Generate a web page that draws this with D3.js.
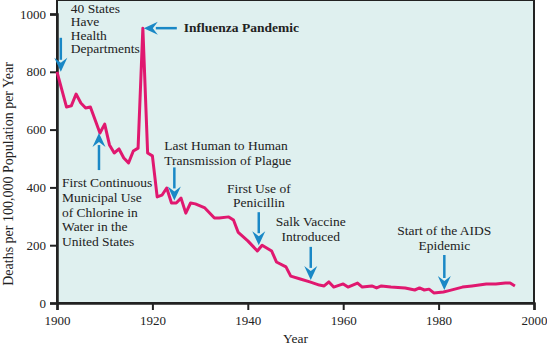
<!DOCTYPE html>
<html lang="en">
<head>
<meta charset="UTF-8">
<title>Infectious disease deaths</title>
<style>
    body { margin: 0; background: #fff; }
    text { font-family: 'Liberation Serif', 'Times New Roman', serif; fill: #222; }
    .tick text { font-size: 13px; }
    .note { font-size: 13.5px; }
</style>
</head>
<body>
<script src="https://d3js.org/d3.v7.min.js"></script>
<script>

    const years = [1900, 1902, 1903, 1904, 1905, 1906, 1907, 1909, 1910, 1911, 1912, 1913, 1914, 1915, 1916, 1917,
        1918, 1919, 1920, 1921, 1922, 1923, 1924, 1925, 1926, 1927, 1928, 1929, 1931, 1933, 1934, 1936, 1937, 1938,
        1940, 1942, 1943, 1945, 1946, 1948, 1949, 1951, 1953, 1955, 1956, 1957, 1958, 1960, 1961, 1963, 1964, 1966,
        1967, 1968, 1970, 1973, 1975, 1976, 1977, 1978, 1979, 1981, 1982, 1985, 1987, 1990, 1992, 1994, 1995, 1996];
    const deaths = [800, 678, 682, 723, 692, 675, 678, 588, 619, 547, 519, 533, 502, 485, 526, 536,
        951, 519, 509, 367, 373, 398, 346, 346, 363, 311, 346, 343, 329, 294, 294, 298, 287, 244,
        215, 180, 200, 180, 142, 125, 93, 83, 73, 62, 59, 73, 55, 66, 55, 69, 55, 59,
        52, 59, 55, 52, 45, 52, 45, 48, 35, 38, 42, 55, 59, 66, 66, 69, 69, 59];
    const xTicks = [1900, 1920, 1940, 1960, 1980, 2000];
    const yTicks = [0, 200, 400, 600, 800, 1000];

    // arrow tip at (year, value); dir = down / up / left
    const notes = [
        {lines: ['40 States', 'Have', 'Health', 'Departments'], year: 1900.8, value: 800, dir: 'down', len: 34,
            tx: 10, ty: -59, lh: 13.5, anchor: 'start'},
        {lines: ['Influenza Pandemic'], year: 1918.2, value: 951, dir: 'left', len: 33,
            tx: 40, ty: 4, lh: 0, anchor: 'start', bold: true},
        {lines: ['First Continuous', 'Municipal Use', 'of Chlorine in', 'Water in the', 'United States'],
            year: 1908.8, value: 588, dir: 'up', len: 37, tx: -37, ty: 54, lh: 14.75, anchor: 'start'},
        {lines: ['Last Human to Human', 'Transmission of Plague'], year: 1924.6, value: 355, dir: 'down', len: 33,
            tx: -10, ty: -50, lh: 15, anchor: 'start'},
        {lines: ['First Use of', 'Penicillin'], year: 1942.3, value: 200, dir: 'down', len: 33,
            tx: 0, ty: -52, lh: 14, anchor: 'middle'},
        {lines: ['Salk Vaccine', 'Introduced'], year: 1953.2, value: 80, dir: 'down', len: 33,
            tx: 0, ty: -54, lh: 15, anchor: 'middle'},
        {lines: ['Start of the AIDS', 'Epidemic'], year: 1981.2, value: 45, dir: 'down', len: 35,
            tx: 0, ty: -55, lh: 15, anchor: 'middle'}
    ];

    const width = 547, height = 345;
    const plot = {left: 57, right: 534, top: 0, bottom: 303};

    const svg = d3.select('body').append('svg')
        .attr('width', width)
        .attr('height', height);

    const x = d3.scaleLinear().domain([1900, 2000]).range([plot.left, plot.right]);
    const y = d3.scaleLinear().domain([0, 1000]).range([plot.bottom, 14]);

    svg.append('rect')
        .attr('x', plot.left)
        .attr('y', plot.top)
        .attr('width', plot.right - plot.left)
        .attr('height', plot.bottom - plot.top)
        .style('fill', '#dff0ef')
        .style('stroke', '#222')
        .style('stroke-width', 2);

    // axes
    const xAxis = svg.append('g')
        .attr('transform', 'translate(0,' + plot.bottom + ')')
        .call(d3.axisBottom(x).tickValues(xTicks).tickFormat(d3.format('d')).tickSize(7).tickPadding(6));
    const yAxis = svg.append('g')
        .attr('transform', 'translate(' + plot.left + ',0)')
        .call(d3.axisLeft(y).tickValues(yTicks).tickFormat(d3.format('d')).tickSize(7).tickPadding(4));
    [xAxis, yAxis].forEach(function(a) {
        a.select('.domain').style('stroke', '#222').style('stroke-width', 2.5);
        a.selectAll('.tick line').style('stroke', '#222').style('stroke-width', 2);
        a.selectAll('.tick text').style('fill', '#222').style('font-size', '13px');
    });

    svg.append('text')
        .attr('x', (plot.left + plot.right) / 2)
        .attr('y', 343)
        .attr('text-anchor', 'middle')
        .style('font-size', '13.5px')
        .text('Year');

    svg.append('text')
        .attr('transform', 'translate(13,174) rotate(-90)')
        .attr('text-anchor', 'middle')
        .style('font-size', '14px')
        .text('Deaths per 100,000 Population per Year');

    // series
    const series = years.map(function(d, i) { return {year: d, value: deaths[i]}; });
    svg.append('path')
        .datum(series)
        .attr('d', d3.line()
            .x(function(d) { return x(d.year); })
            .y(function(d) { return y(d.value); }))
        .style('fill', 'none')
        .style('stroke', '#e0186f')
        .style('stroke-width', 3)
        .style('stroke-linejoin', 'round');

    // annotations
    const blue = '#1a88c6';
    notes.forEach(function(n) {
        const px = x(n.year), py = y(n.value);
        const g = svg.append('g');
        const head = 14, half = 6.5;
        let shaft, tri;
        if (n.dir === 'down') {
            shaft = [[px, py - n.len], [px, py - head + 2]];
            tri = [[px, py], [px - half, py - head], [px, py - head + 5], [px + half, py - head]];
        } else if (n.dir === 'up') {
            shaft = [[px, py + n.len], [px, py + head - 2]];
            tri = [[px, py], [px - half, py + head], [px, py + head - 5], [px + half, py + head]];
        } else {
            shaft = [[px + n.len, py], [px + head - 2, py]];
            tri = [[px, py], [px + head, py - half], [px + head - 5, py], [px + head, py + half]];
        }
        g.append('path')
            .attr('d', d3.line()(shaft))
            .style('stroke', blue)
            .style('stroke-width', 2.5);
        g.append('path')
            .attr('d', d3.line()(tri) + 'Z')
            .style('fill', blue);

        const t = g.append('text')
            .attr('class', 'note')
            .attr('text-anchor', n.anchor)
            .style('font-weight', n.bold ? 'bold' : 'normal');
        n.lines.forEach(function(l, i) {
            t.append('tspan')
                .attr('x', px + n.tx)
                .attr('y', py + n.ty + i * n.lh)
                .text(l);
        });
    });

</script>
</body>
</html>
